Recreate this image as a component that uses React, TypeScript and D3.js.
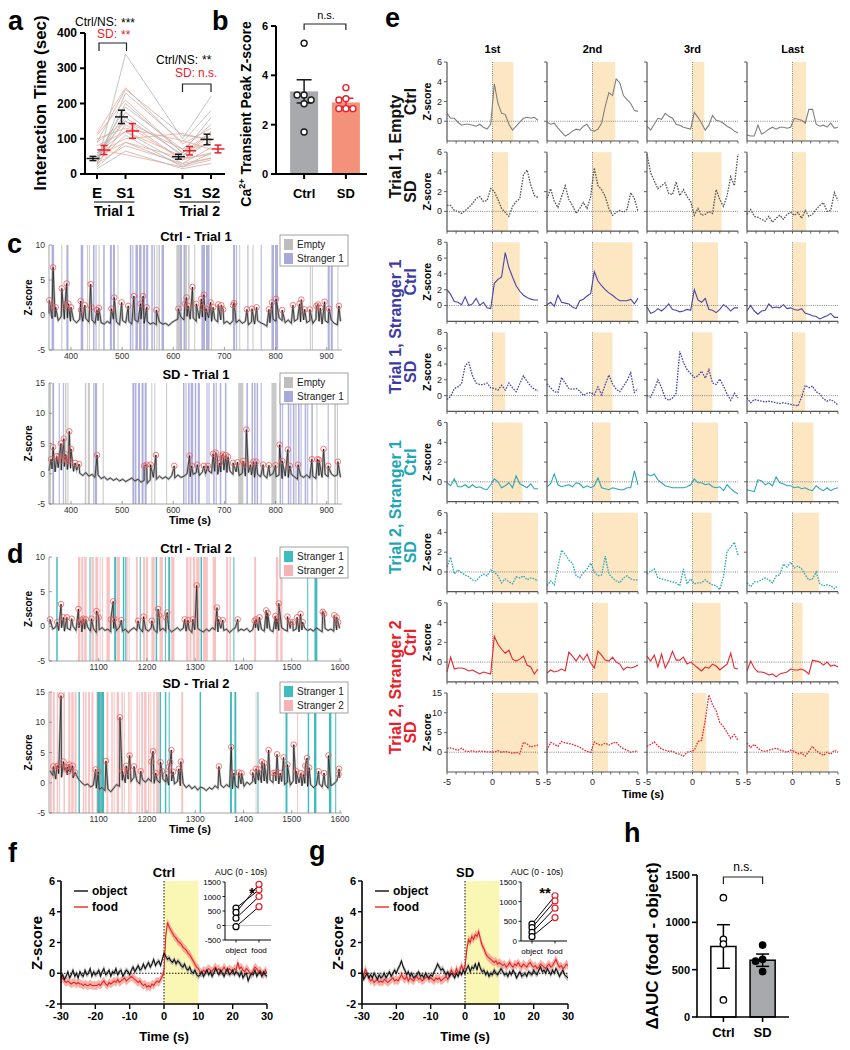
import React from 'react'
import * as d3 from 'd3'

const FONT = "'Liberation Sans', Arial, Helvetica, sans-serif"
const RED = '#e8202a'
const BAR_GRAY = '#a7a9ac'

// ---------- a: interaction time ----------
const aSlots = ['t1E', 't1S1', 'gap', 't2S1', 't2S2']
const aKeys = ['t1E', 't1S1', 't2S1', 't2S2']
const aTickLabels = ['E', 'S1', 'S1', 'S2']
const aCtrlAnimals = [
  [15, 65, 15, 30], [25, 340, 100, 220], [30, 230, 90, 180], [40, 200, 60, 160],
  [45, 175, 50, 120], [55, 150, 40, 95], [60, 120, 30, 75], [35, 110, 20, 60],
  [50, 190, 70, 140], [90, 240, 110, 100], [20, 90, 25, 45], [40, 160, 55, 90],
]
const aSdAnimals = [
  [115, 245, 85, 130], [110, 210, 60, 120], [25, 140, 40, 60], [60, 100, 115, 95],
  [80, 120, 50, 110], [30, 80, 30, 45], [70, 55, 20, 40], [90, 150, 70, 85],
  [50, 90, 45, 55], [100, 130, 95, 70],
]
const aCtrlMean = [44, 162, 49, 98]
const aCtrlSem = [6, 19, 7, 15]
const aSdMean = [68, 122, 66, 71]
const aSdSem = [13, 21, 12, 11]

// ---------- b: peak z-score ----------
const bGroups = ['Ctrl', 'SD']
const bMeans = [3.35, 2.9]
const bSems = [0.47, 0.17]
const bCtrlPoints = [5.3, 3.2, 3.2, 3.0, 2.85, 1.7]
const bSdPoints = [3.5, 3.05, 3.0, 2.65, 2.65, 2.65]

// ---------- c / d: whole-session traces ----------
const traceStep = 6
const cT1Start = 357
const cCtrlT1Base = [
  0.2, -0.5, -0.3, -0.8, -0.2, -0.6, -0.4, -0.9, -0.7, -1.1,
  -0.6, -0.9, -0.5, -1.0, -0.7, -1.2, -0.8, -1.1, -1.3, -0.9,
  -1.2, -0.6, -1.0, -1.4, -0.8, -1.1, -0.9, -1.3, -0.7, -1.0,
  -0.6, -1.2, -0.9, -1.3, -1.1, -1.4, -1.0, -1.3, -1.2, -1.5,
  -1.1, -0.8, -0.6, -0.3, -0.7, -0.2, -0.6, -0.4, -0.9, -0.5,
  -0.3, -0.8, -0.4, -0.9, -0.6, -1.0, -0.7, -1.2, -0.9, -1.3,
  -0.8, -1.1, -0.7, -1.2, -0.9, -1.4, -1.0, -1.3, -0.8, -1.1,
  -1.3, -1.6, -1.1, -0.6, -0.9, -0.4, -0.8, -1.1, -0.7, -1.2,
  -0.9, -0.6, -1.0, -0.7, -1.1, -0.8, -1.2, -0.6, -0.9, -1.3,
  -0.8, -1.1, -0.7, -1.2, -1.4, -0.9,
]
const cCtrlT1Peaks = [
  [357.6, 2.1], [363, 1.3], [365, 6.8], [370, 1.1], [382, 3.8], [388, 1.3], [391.5, 4.5], [395, 1.6],
  [400, 1.1], [419, 2.0], [419.5, 0.7], [427, 1.4], [438.5, 4.4], [440, 1.1], [451, 0.7], [454.6, 1.0],
  [479, 0.9], [484.6, 2.5], [499, 1.8], [512, 1.3], [523, 2.7], [536, 1.6], [541, 2.7], [548, 1.1],
  [567, 0.7], [610, 0.9], [623, 1.6], [626, 2.5], [629, 1.3], [637.6, 4.0], [645, 1.6], [655, 2.3],
  [657, 1.1], [660, 2.9], [664, 0.9], [673, 1.8], [678, 1.1], [688, 1.5], [694, 1.4], [697.5, 0.8],
  [717, 1.4], [719, 1.7], [744, 0.8], [754, 0.9], [763, 1.1], [787, 0.8], [793, 1.8], [801, 2.3],
  [813, 0.7], [834, 1.4], [847, 1.6], [850.5, 2.2], [857, 0.8], [867, 0.8], [880, 1.3], [883, 1.5],
  [887.6, 1.0], [896, 1.9], [904.5, 0.9], [924, 1.3],
]
const cCtrlT1Empty = [
  [381, 383], [431, 433], [435, 437], [454, 456], [491, 493], [567, 569], [571, 574], [606, 613],
  [623, 627], [629, 632], [641, 643], [674, 676], [729, 731], [755, 757], [867, 869], [871, 873], [921, 923],
]
const cCtrlT1Stranger1 = [
  [362, 367], [391, 395], [419, 424], [443, 446], [448, 450], [463, 466], [476, 480], [482, 486],
  [515, 518], [520, 522], [526, 531], [533, 538], [541, 545], [547, 551], [557, 560], [562, 564],
  [577, 582], [613, 617], [620, 623], [655, 662], [664, 671], [717, 721], [723, 725], [745, 747],
  [771, 773], [792, 797], [799, 805], [902, 906], [908, 912],
]
const cSdT1Base = [
  0.5, 0.8, 0.3, 1.0, 0.6, 1.2, 0.7, 0.9, 0.4, 0.6,
  0.1, -0.3, 0.2, -0.4, -0.1, -0.6, -0.2, -0.8, -0.5, -1.0,
  -0.7, -1.1, -0.8, -1.2, -0.9, -1.3, -1.0, -0.7, -1.2, -0.9,
  -1.4, -1.1, -1.6, -1.0, -0.6, -0.9, -0.4, -0.8, -0.5, -0.9,
  -0.3, -0.7, -0.2, -0.6, -0.4, 0.0, -0.5, -0.1, 0.2, -0.3,
  0.3, 0.0, 0.5, 0.1, 0.4, -0.1, 0.3, 0.6, 0.2, 0.4,
  -0.1, 0.3, -0.3, 0.1, -0.4, 0.2, -0.2, -0.6, -0.1, -0.5,
  -0.2, -0.7, -0.3, 0.0, -0.5, -0.2, -0.8, -0.4, -0.6, -0.1,
  -0.5, -0.9, -0.3, -0.6, -0.2, -0.7, -0.4, -0.8, -0.3, -0.6,
  -0.1, -0.5, 0.0, -0.4, -0.2, -0.6,
]
const cSdT1Peaks = [
  [361, 2.4], [365, 4.4], [372, 2.9], [377, 2.9], [380.4, 5.0], [382, 2.1], [386, 5.8], [389.6, 3.2],
  [391.6, 2.5], [394.7, 2.1], [396.7, 7.0], [400, 4.1], [408, 1.8], [416, 1.6], [451, 3.1], [543, 1.3],
  [548, 1.5], [555.6, 1.5], [566, 3.1], [602, 1.3], [632, 3.0], [636, 1.3], [647, 1.5], [660, 1.3],
  [668, 1.3], [678, 3.3], [683, 3.5], [686.5, 2.5], [691, 1.8], [694, 2.9], [697.5, 3.2], [702.7, 3.1],
  [707, 2.8], [717, 1.8], [725.5, 1.9], [736.5, 2.1], [738.5, 1.5], [743, 7.3], [751, 1.5], [757, 2.0],
  [762.6, 2.0], [775.6, 1.5], [787, 1.4], [800, 1.4], [808, 4.8], [813, 2.1], [824, 4.0], [828, 1.3],
  [844, 1.5], [871, 2.4], [882, 2.4], [885, 2.3], [894, 4.1], [903, 1.3], [922, 2.0],
]
const cSdT1Empty = [
  [358, 361], [363, 366], [388, 391], [393, 395], [427, 430], [433, 437], [443, 445], [462, 464],
  [557, 559], [563, 565], [586, 588], [727, 737], [792, 802], [880, 882], [915, 918], [920, 922],
]
const cSdT1Stranger1 = [
  [365, 367], [376, 378], [384, 386], [446, 451], [520, 524], [525, 528], [531, 535], [538, 542],
  [544, 548], [619, 622], [624, 626], [629, 632], [634, 639], [642, 645], [648, 652], [665, 667],
  [669, 671], [678, 681], [683, 685], [691, 694], [701, 704], [743, 746], [753, 756], [758, 761],
  [763, 766], [771, 773], [808, 811], [813, 815], [824, 827], [829, 831], [834, 837], [839, 841],
  [844, 847], [849, 851], [857, 860], [862, 864], [870, 873], [902, 904],
]
const dT2Start = 999
const dCtrlT2Base = [
  0.3, -0.4, -0.1, -0.6, -0.2, -0.7, -0.3, -0.5, 0.0, -0.6,
  -0.2, -0.8, -0.4, -0.1, -0.7, -0.3, -0.9, -0.5, -0.2, -0.6,
  -0.4, -0.8, -0.3, -0.6, -0.1, -0.7, -0.4, -0.9, -0.5, -0.2,
  -0.6, -0.3, -0.8, -0.4, -0.7, -0.2, -0.5, -0.9, -0.6, -0.3,
  -0.7, -0.4, -0.8, -0.5, -0.2, -0.6, -0.3, -0.7, -0.4, -0.9,
  -0.5, -0.3, -0.6, -0.8, -0.4, -0.7, -0.2, -0.5, -0.8, -0.3,
  -0.6, -0.4, -0.9, -0.5, -0.2, -0.7, -0.4, -0.6, -0.3, -0.8,
  -0.5, -0.2, -0.6, -0.4, -0.7, -0.3, -0.5, -0.8, -0.4, -0.6,
  -0.2, -0.5, -0.7, -0.3, -0.6, -0.4, -0.8, -0.5, -0.3, -0.6,
  -0.4, -0.7, -0.2, -0.5, -0.8, -0.3, -0.6, -0.4, -0.7, -0.5,
  -0.3,
]
const dCtrlT2Peaks = [
  [999, 1.0], [1014, 0.6], [1022, 3.2], [1027, 1.3], [1034, 1.3], [1044, 1.1], [1058, 2.5], [1061, 0.5],
  [1064.5, 0.9], [1068, 1.1], [1073, 1.0], [1085, 1.1], [1095.5, 2.2], [1100, 1.3], [1125, 1.0], [1130, 3.6],
  [1132, 1.1], [1147, 0.9], [1181.5, 0.8], [1193, 1.4], [1210, 0.8], [1223, 2.5], [1225, 1.6], [1239, 1.3],
  [1242, 2.0], [1278, 1.0], [1285, 0.9], [1295, 1.0], [1303, 5.9], [1345, 2.7], [1348, 1.0], [1357, 0.9],
  [1388, 1.0], [1423, 0.8], [1426, 1.0], [1433, 1.3], [1447, 2.3], [1450, 1.9], [1466, 1.5], [1469, 1.1],
  [1473, 3.3], [1491, 1.4], [1497, 0.6], [1502, 0.6], [1511, 1.3], [1518, 1.8], [1522.5, 0.6], [1564, 2.1],
  [1567, 1.8], [1588, 1.6], [1593, 1.3], [1596, 0.6],
]
const dCtrlT2Stranger1 = [
  [1012, 1015], [1081, 1083], [1132, 1136], [1150, 1153], [1155, 1157], [1185, 1187], [1218, 1221],
  [1237, 1239], [1244, 1248], [1311, 1314], [1379, 1381], [1532, 1534], [1547, 1553],
]
const dCtrlT2Stranger2 = [
  [1057, 1062], [1064, 1068], [1070, 1075], [1085, 1090], [1093, 1099], [1102, 1104], [1107, 1109],
  [1116, 1123], [1137, 1144], [1157, 1160], [1162, 1164], [1177, 1181], [1192, 1196], [1198, 1202],
  [1209, 1216], [1226, 1233], [1250, 1257], [1281, 1286], [1288, 1292], [1295, 1300], [1302, 1309],
  [1316, 1326], [1336, 1343], [1364, 1368], [1371, 1374], [1422, 1426], [1467, 1472], [1476, 1481],
]
const dSdT2Base = [
  2.0, 1.2, 0.6, 1.5, 0.9, 2.1, 1.3, 1.8, 0.8, 1.4,
  0.5, 0.0, -0.4, -0.2, -0.7, -0.4, -0.9, -1.1, -0.8, -1.3,
  -1.0, -1.5, -0.9, -0.3, -0.6, 0.4, 0.0, 0.6, 0.2, 0.9,
  0.3, -0.2, 0.5, 0.1, 0.7, 0.2, -0.1, 0.4, 0.0, 0.6,
  0.1, -0.4, 0.3, -0.2, 0.2, -0.5, -0.1, -0.8, -0.4, -1.0,
  -0.6, -1.2, -0.7, -0.9, -1.3, -0.8, -1.1, -0.5, -0.9, -0.4,
  -0.8, -0.3, -0.7, -1.0, -0.5, -0.8, -0.2, -0.6, 0.1, -0.3,
  0.2, -0.2, 0.4, 0.0, 0.3, -0.1, 0.5, 0.0, 0.3, -0.2,
  0.2, -0.3, 0.1, -0.4, 0.3, -0.2, 0.0, -0.5, -0.1, -0.6,
  -0.3, -0.8, -0.4, -0.2, -0.7, -0.3, -0.9, -0.5, -0.2, 0.3,
  0.8,
]
const dSdT2Peaks = [
  [1006, 2.7], [1013, 2.7], [1016, 2.8], [1022, 14.4], [1027, 3.5], [1032, 2.5], [1035, 2.6], [1037, 1.9],
  [1039, 3.0], [1046, 2.8], [1051, 1.7], [1093.5, 2.2], [1099, 1.8], [1115, 3.6], [1144, 10.8], [1149, 1.9],
  [1157, 2.8], [1161, 1.8], [1164, 4.5], [1173, 2.7], [1187, 1.9], [1209, 3.5], [1212.5, 5.2], [1218, 1.6],
  [1228, 3.4], [1231, 1.9], [1240, 1.4], [1245.5, 2.6], [1248, 3.4], [1250.5, 5.4], [1254, 1.8], [1266, 2.3],
  [1270, 3.5], [1349, 2.7], [1374.5, 5.9], [1380, 1.6], [1390, 1.7], [1396, 1.6], [1419, 1.7], [1426, 2.3],
  [1431.5, 2.2], [1438, 3.5], [1443, 3.2], [1452, 5.4], [1462, 1.6], [1466, 1.7], [1469.5, 4.7], [1476, 1.6],
  [1483, 4.2], [1491, 3.0], [1504, 6.3], [1509, 1.9], [1519, 1.6], [1524.5, 1.4], [1528, 2.8], [1531.5, 4.1],
  [1536, 2.5], [1555.5, 1.9], [1567, 1.6], [1576, 4.5], [1597, 1.4], [1598, 2.3],
]
const dSdT2Stranger1 = [
  [1058, 1061], [1097, 1104], [1105, 1111], [1226, 1229], [1237, 1240], [1245, 1247], [1309, 1312],
  [1372, 1376], [1381, 1385], [1429, 1431], [1487, 1491], [1533, 1536], [1546, 1551], [1577, 1582], [1590, 1592],
]
const dSdT2Stranger2 = [
  [999, 1003], [1005, 1009], [1013, 1016], [1018, 1020], [1027, 1030], [1037, 1041], [1043, 1048],
  [1050, 1054], [1067, 1070], [1072, 1075], [1078, 1082], [1085, 1089], [1095, 1099], [1102, 1105],
  [1107, 1109], [1116, 1120], [1126, 1129], [1131, 1133], [1137, 1142], [1147, 1150], [1152, 1154],
  [1161, 1164], [1166, 1168], [1178, 1181], [1183, 1185], [1188, 1192], [1194, 1199], [1202, 1205],
  [1207, 1209], [1213, 1216], [1219, 1225], [1271, 1275], [1425, 1427], [1511, 1513],
]

// ---------- e: single bouts ----------
const eCols = ['1st', '2nd', '3rd', 'Last']
const eTimes = [-5, -4.6, -4.2, -3.8, -3.4, -3, -2.6, -2.2, -1.8, -1.4, -1, -0.6, -0.2,
  0.2, 0.6, 1, 1.4, 1.8, 2.2, 2.6, 3, 3.4, 3.8, 4.2, 4.6, 5]
const eT1EmptyCtrl = [
  [0.8, 0.3, 0.3, -0.1, -0.4, -0.3, -0.3, -0.4, -0.5, -0.3, -0.6, -0.8, -0.3, 3.8, 1.8, 0.8, 0.7, -0.3, -0.9, -0.5, -0.1, 0.3, 0.4, 0.3, 0.4, 0.1],
  [-0.1, -0.3, -0.2, -0.7, -1.1, -1.5, -1.3, -1.0, -0.8, -0.9, -0.5, -0.3, -0.9, -1.0, -0.8, -0.2, 1.5, 2.9, 2.6, 4.3, 3.9, 2.6, 2.2, 1.8, 1.1, 1.0],
  [-0.5, -0.9, -0.3, 0.3, 0.2, 0.8, 0.5, 0.3, -0.3, -0.4, -0.6, -0.7, -0.8, 0.9, 0.4, -0.2, -0.9, -0.4, 0.6, 0.1, 0.0, -0.2, -0.5, -0.7, -1.0, -1.2],
  [-1.4, -1.5, -1.5, -0.4, -1.3, -1.1, -0.8, -0.6, -0.8, -0.6, -0.6, -0.7, -0.6, 0.3, 0.2, 0.1, -0.2, 1.2, 1.2, -0.3, -0.5, -0.4, -0.6, -0.2, -0.7, -0.6],
]
const eT1EmptySd = [
  [0.6, 0.6, 0.1, 0.0, -0.2, 0.1, 0.4, 0.8, 1.3, 1.5, 1.0, 1.1, 2.3, 2.0, 1.2, 0.3, -0.1, -0.5, 0.5, 1.0, 1.3, 3.7, 4.2, 2.7, 1.6, 1.4],
  [1.3, 2.3, 1.0, 0.4, 1.5, 2.6, 1.2, 0.6, -0.2, 0.3, 0.9, 0.3, 1.5, 4.4, 2.6, 2.2, 1.5, 0.3, -0.4, -0.1, 0.1, -0.1, 0.2, 1.9, 1.3, 0.0],
  [5.8, 3.9, 3.1, 2.3, 2.6, 2.9, 1.8, 1.7, 3.0, 1.6, 2.2, 1.5, 1.0, -0.4, 0.3, -0.4, -0.3, 0.0, -0.2, 2.2, 1.2, 0.5, 1.6, 3.5, 2.6, 5.8],
  [-0.3, 0.2, -0.5, -0.6, -0.8, -1.0, -0.5, -1.1, -0.7, -0.4, -0.8, -0.3, -0.1, -0.4, -0.1, -0.7, 0.1, -0.5, -0.3, 0.2, 0.6, 0.9, 0.0, 0.1, 1.9, 1.1],
]
const eT1S1Ctrl = [
  [2.0, 1.4, 0.5, 0.4, 0.1, 1.1, 0.0, 0.2, 0.9, 0.0, 0.4, -0.3, -0.4, 2.8, 3.3, 3.6, 6.7, 4.8, 3.6, 2.5, 1.8, 1.3, 1.0, 0.8, 0.7, 0.7],
  [0.1, 0.4, -0.1, 1.3, 0.4, 0.3, 0.2, -0.2, -0.4, 0.6, 0.8, 1.2, 1.5, 4.3, 3.1, 2.5, 2.0, 1.6, 1.3, 0.9, 0.6, 0.6, 0.6, 0.8, 0.2, 0.9],
  [-0.2, -1.0, -0.8, -0.4, -0.7, -0.3, 0.2, -0.5, -0.6, -0.8, -0.7, -0.5, -0.6, 2.0, 0.7, 0.4, 0.9, -0.5, -0.6, -0.9, -0.5, 0.1, -0.2, -0.7, -0.3, -0.3],
  [-0.7, 0.0, -0.7, -1.1, -0.7, -0.6, 0.2, -0.3, -0.2, -0.3, 0.1, -0.4, -0.3, -0.5, -0.6, -0.4, -1.0, -1.1, -1.3, -1.4, -1.7, -1.5, -1.3, -1.0, -1.5, -1.5],
]
const eT1S1Sd = [
  [-0.5, -0.1, 0.9, 1.1, 1.5, 3.8, 4.2, 2.5, 1.6, 1.4, 1.4, 1.6, 1.0, 0.9, 0.7, 1.3, 0.7, 1.6, 1.0, 0.5, 1.5, 2.5, 1.8, 1.2, 0.8, 0.6],
  [1.5, 1.0, 0.5, 0.4, 2.3, 1.6, 0.9, 0.8, 0.9, 0.6, 0.0, 0.3, 0.4, 0.1, 1.1, 0.1, 1.4, 2.6, 1.5, 0.8, 0.5, 1.2, 1.9, 2.9, 0.4, 0.9],
  [0.0, -0.2, 0.8, 2.0, 1.0, -0.3, -0.6, -0.3, 0.3, 5.6, 4.2, 3.3, 2.8, 2.3, 2.5, 3.1, 2.2, 3.3, 1.6, 1.4, 2.1, 1.2, 0.2, -0.6, 0.3, -0.3],
  [-0.3, -0.9, -0.5, -0.6, -0.7, -0.8, -0.7, -0.8, -0.9, -1.0, -0.9, -1.0, -1.1, -1.2, -1.3, -0.2, 1.3, 1.0, 1.2, 0.5, 0.2, -0.4, -0.7, -0.5, -0.8, -1.2],
]
const eT2S1Ctrl = [
  [-0.1, -0.4, 0.3, -0.5, -0.5, -0.3, -0.6, -0.3, -0.6, -0.5, -0.7, -0.8, -0.3, 0.3, 0.0, -0.6, -0.4, -0.1, -0.6, 0.6, -0.2, -0.4, -0.6, -0.2, -0.7, -0.7],
  [-0.5, -0.2, 0.8, -0.3, -0.5, -0.4, -0.3, -0.5, -0.1, -0.2, -0.6, -0.4, -0.6, -0.4, 0.4, -0.6, -0.7, -0.8, -0.6, -0.7, -0.8, -0.8, -0.6, -0.6, 1.1, -0.3],
  [0.8, 0.6, 0.8, 0.2, -0.1, -0.4, -0.5, -0.6, -0.6, -0.6, -0.6, -0.5, -0.3, 0.3, -0.1, -0.1, -0.3, -0.2, -0.5, -0.6, -0.5, -0.9, -0.3, -0.7, -1.0, -1.2],
  [-0.8, -0.9, -1.0, 0.2, 0.1, -0.3, -0.1, -0.4, 0.5, -0.1, -0.2, -0.4, -0.4, -0.6, -0.5, -0.7, -0.6, -0.8, -0.9, -0.4, -0.7, -0.9, -0.6, -0.9, -0.7, -0.6],
]
const eT2S1Sd = [
  [0.5, 1.5, -0.2, 0.2, -0.1, -0.3, -0.5, -0.8, -0.9, -0.5, -0.2, -0.4, 0.2, 0.0, -0.4, -1.1, -0.7, -1.0, -1.2, -0.5, -0.6, -0.4, -0.8, -0.6, -0.7, -0.9],
  [-1.4, -0.9, -1.3, 0.5, 2.2, 1.8, 1.2, 0.9, -0.4, -0.6, -0.1, 0.3, 0.9, 0.0, -0.4, -0.3, 1.6, -0.2, -0.6, -0.9, -1.1, -0.6, -0.4, -0.7, -0.8, -0.8],
  [-0.2, 0.1, 0.3, -0.6, -0.7, -0.8, -0.9, -1.0, -1.1, -1.4, 0.3, -1.2, -0.7, -1.2, -1.1, -1.1, -0.8, -1.1, -1.3, -1.4, -1.8, -0.5, 2.1, 2.5, 3.0, 1.7],
  [-1.1, -1.5, -1.0, -1.0, -0.8, -0.6, -0.8, -1.1, -0.4, -0.3, 0.8, 0.5, 1.0, 0.4, 0.6, 0.3, -0.3, -0.8, -0.7, 0.0, -1.2, -1.4, -1.3, -1.4, -1.7, -1.4],
]
const eT2S2Ctrl = [
  [-1.0, 0.5, -0.7, -0.6, -0.6, -0.7, -0.9, -0.8, -1.0, -1.2, -1.0, -1.1, -1.2, 2.6, 1.8, 1.3, 0.9, 1.2, 0.3, 0.1, 0.3, 0.6, -0.3, -0.5, -1.2, -0.7],
  [-1.1, -0.8, -1.0, -0.9, -0.7, -0.9, 1.0, 0.6, 0.1, 0.7, 0.2, 0.8, -0.1, -0.6, 1.1, 0.7, 0.2, 0.1, 0.5, 0.0, -0.2, -0.8, -0.5, -0.6, -0.5, -0.3],
  [0.6, 0.1, 0.7, -0.5, 0.8, -0.6, 0.1, 1.1, 0.2, 0.2, 0.5, -0.2, 0.0, -0.3, -0.6, -0.9, -0.5, -0.6, -0.2, -0.4, -0.8, -0.5, -0.2, 0.9, -0.6, -0.7],
  [-0.9, 0.1, -0.6, -1.0, -1.0, -1.1, -1.3, -1.2, -1.5, -1.2, -1.1, -1.0, -0.7, -0.8, -0.8, -0.7, -0.9, -1.2, 0.2, 0.1, 0.0, -0.3, 0.0, -0.4, -0.3, -0.5],
]
const eT2S2Sd = [
  [1.0, 1.1, 0.8, 0.5, 1.0, 0.3, 0.2, 0.4, 0.1, 0.3, 0.2, 0.1, 0.1, 0.0, 0.4, 0.0, 0.2, 0.0, -0.3, 0.0, -0.4, 2.5, 2.1, 1.3, 1.6, 1.8],
  [0.5, 2.5, 2.0, 1.5, 2.7, 2.4, 2.2, 2.0, 1.6, 1.3, 0.7, 0.2, 0.0, 2.6, 2.0, 1.8, 2.3, 1.8, 2.3, 2.6, 1.5, 0.9, 0.5, 0.0, 0.2, 0.3],
  [1.5, 2.0, 2.6, 1.6, 0.8, 0.5, 0.2, 0.3, -0.3, -0.5, -1.0, 0.0, 0.2, 0.5, 2.7, 3.0, 8.0, 14.5, 12.0, 10.5, 7.5, 6.5, 5.0, 3.5, 4.5, 3.0],
  [2.3, 1.2, 2.0, 1.0, 0.4, 0.2, 0.5, 0.8, 1.0, 0.6, 0.3, 0.0, 0.5, 0.2, -0.4, -0.2, -1.0, 0.2, 1.5, 0.4, -0.3, -0.8, 0.0, -0.5, 0.5, 0.0],
]
// bout durations (s) in each subplot
const eT1EmptyCtrlBout = [2.3, 2.5, 1.3, 1.5]
const eT1EmptySdBout = [1.7, 2.1, 3.2, 1.5]
const eT1S1CtrlBout = [3.0, 4.4, 2.8, 1.5]
const eT1S1SdBout = [1.4, 2.2, 2.2, 1.4]
const eT2S1CtrlBout = [3.3, 2.0, 2.8, 2.3]
const eT2S1SdBout = [5.0, 5.0, 2.1, 2.9]
const eT2S2CtrlBout = [5.0, 1.7, 3.1, 1.1]
const eT2S2SdBout = [5.0, 1.7, 1.5, 4.0]

// ---------- f / g: object vs food ----------
const fgStart = -30
const fgStep = 0.5
const fCtrlObject = [
  -0.3, -0.1, -0.4, -0.2, 0.1, -0.3, -0.1, 0.2, -0.2, 0.0, -0.3, 0.1, -0.1, -0.2, 0.2, -0.1, 0.0, 0.3, -0.2, 0.1, -0.1,
  0.0, 0.2, -0.2, 0.1, 0.3, -0.1, 0.0, 0.2, -0.2, 0.1, 0.0, 0.3, -0.1, 0.1, 0.2, -0.2, 0.0, 0.2, 0.1, -0.1,
  0.2, 0.4, 0.1, 0.3, 0.5, 0.2, 0.3, 0.6, 0.3, 0.5, 0.7, 0.4, 0.6, 0.9, 0.5, 0.7, 0.8, 0.5, 0.9, 1.3,
  1.1, 0.9, 1.0, 0.8, 0.7, 0.9, 0.6, 0.8, 0.7, 0.5, 0.4, 0.6, 0.3, 0.2, 0.4, 0.1, 0.0, 0.2, -0.1, -0.2,
  -0.1, 0.1, -0.2, 0.0, 0.2, -0.1, 0.1, -0.2, 0.0, 0.3, 0.1, -0.1, 0.2, 0.0, -0.2, 0.1, 0.3, -0.1, 0.0, 0.2,
  -0.1, 0.1, 0.0, -0.2, 0.1, -0.3, -0.1, 0.0, -0.5, -0.2, 0.0, -0.1, 0.2, -0.2, 0.0, 0.1, -0.2, 0.1, -0.1, -0.2,
]
const fCtrlFood = [
  -0.4, -0.3, -0.5, -0.6, -0.5, -0.6, -0.7, -0.6, -0.6, -0.7, -0.6, -0.7, -0.7, -0.8, -0.7, -0.8, -0.8, -0.7, -0.8, -0.8, -0.8,
  -0.8, -0.7, -0.8, -0.6, -0.5, -0.7, -0.8, -0.6, -0.7, -0.6, -0.5, -0.6, -0.4, -0.6, -0.5, -0.4, -0.3, -0.5, -0.4, -0.3,
  -0.2, -0.3, -0.4, -0.5, -0.6, -0.5, -0.7, -0.8, -0.7, -0.9, -0.8, -0.9, -0.7, -0.8, -0.6, -0.5, -0.6, -0.4, -0.2, 0.2,
  2.4, 3.3, 3.0, 2.8, 2.6, 2.4, 2.3, 2.1, 2.0, 1.9, 1.7, 1.6, 1.5, 1.3, 1.2, 1.0, 0.8, 0.6, 0.4, 0.3,
  0.1, 0.0, 0.2, 0.1, 0.2, 0.3, 0.2, 0.1, 0.3, 0.4, 0.2, 0.3, 0.1, 0.2, 0.4, 0.2, 0.1, 0.3, 0.2, 0.1,
  0.3, 0.2, 0.7, 0.3, 0.4, 0.2, 0.1, 0.3, 0.2, 0.0, -0.1, 0.2, 0.4, 0.3, 0.1, 0.2, 0.0, -0.1, 0.2, 0.0,
]
const gSdObject = [
  0.2, -0.4, -0.2, 0.0, -0.3, -0.1, -0.3, 0.0, -0.2, -0.4, -0.1, -0.3, -0.2, 0.0, -0.3, -0.1, 0.1, -0.2, 0.0, 0.2, 0.0,
  0.3, 0.5, 0.8, 0.4, 0.2, -0.1, 0.1, -0.2, 0.0, -0.3, -0.2, -0.1, 0.1, -0.2, -0.1, -0.3, 0.0, -0.2, -0.3, -0.1,
  -0.2, 0.1, 0.3, 0.6, 0.4, 0.2, 0.3, 0.1, -0.1, 0.1, -0.2, 0.0, -0.1, -0.3, 0.0, -0.2, 0.1, -0.1, 0.2, 0.0,
  0.3, 0.5, 0.1, 0.4, 0.3, 0.6, 0.2, 0.7, 0.3, 0.1, 0.2, -0.1, 0.1, -0.2, 0.0, -0.1, 0.2, 0.0, -0.1, 0.1,
  0.3, 0.1, -0.1, 0.0, -0.2, 0.1, -0.1, 0.2, 0.0, -0.3, -0.1, 0.1, -0.2, -0.1, 0.0, -0.2, 0.1, 0.0, -0.1, 0.2,
  0.0, -0.1, 0.2, 0.4, 0.1, 0.2, 0.0, 0.3, 0.1, -0.1, 0.2, 0.0, 0.3, 0.1, -0.2, 0.0, 0.2, -0.1, -0.2, -0.3,
]
const gSdFood = [
  0.0, -0.2, 0.3, -0.1, -0.3, -0.5, -0.4, -0.6, -0.5, -0.4, -0.6, -0.5, -0.6, -0.4, -0.5, -0.6, -0.5, -0.4, -0.3, -0.5, -0.4,
  -0.5, -0.3, -0.1, -0.3, -0.4, -0.2, -0.5, -0.3, -0.4, -0.5, -0.3, -0.2, -0.4, -0.3, -0.5, -0.4, -0.3, -0.2, -0.4, -0.3,
  -0.4, -0.5, -0.3, -0.4, -0.3, -0.5, -0.4, -0.3, -0.2, -0.4, -0.1, 0.2, 0.0, -0.1, 0.3, 0.0, 0.2, 0.5, 0.2, 0.4,
  1.5, 2.2, 2.0, 2.4, 2.2, 2.5, 2.4, 2.7, 2.2, 1.8, 1.6, 1.3, 1.1, 1.0, 0.9, 0.8, 0.7, 0.8, 0.6, 0.7,
  0.6, 0.5, 0.6, 0.4, 0.5, 0.7, 0.5, 0.4, 0.6, 0.5, 0.7, 0.5, 0.4, 0.6, 0.5, 0.4, 0.6, 0.7, 0.5, 0.4,
  0.5, 0.3, 0.4, 0.6, 0.5, 0.4, 0.3, 0.5, 0.6, 0.4, 0.5, 0.7, 0.9, 0.6, 0.4, 0.5, 0.3, 0.4, 0.6, 0.5,
]
const fAucObject = [600, 450, 250, -40]
const fAucFood = [1230, 1420, 1000, 650]
const gAucObject = [430, 340, 220, 110]
const gAucFood = [1150, 1020, 835, 596]

// ---------- h: delta AUC ----------
const hGroups = ['Ctrl', 'SD']
const hMeans = [745, 600]
const hSems = [230, 65]
const hCtrlPoints = [1260, 820, 770, 180]
const hSdPoints = [760, 610, 590, 480]

// ---------- helpers ----------
const dodge = (vals: number[], y: (v: number) => number, minDist: number, step: number) => {
  const placed: { dx: number; py: number }[] = []
  return vals.map((v) => {
    const py = y(v)
    for (const dx of [0, -step, step, -2 * step, 2 * step]) {
      if (placed.every((p) => Math.hypot(p.dx - dx, p.py - py) >= minDist)) {
        placed.push({ dx, py })
        return { v, dx }
      }
    }
    placed.push({ dx: 0, py })
    return { v, dx: 0 }
  })
}

const Label = ({ x, y, t }: any) => (
  <text x={x} y={y} fontSize={27} fontWeight="bold">{t}</text>
)

const VText = ({ x, y, size, fill = '#000', weight = 'bold', children }: any) => (
  <text transform={`translate(${x},${y}) rotate(-90)`} textAnchor="middle" fontSize={size} fontWeight={weight} fill={fill}>
    {children}
  </text>
)

const MeanSem = ({ cx, y, mean, sem, color, half = 6.5, cap = 3.5 }: any) => (
  <g stroke={color} strokeWidth={1.5}>
    <line x1={cx - half} x2={cx + half} y1={y(mean)} y2={y(mean)} />
    <line x1={cx} x2={cx} y1={y(mean - sem)} y2={y(mean + sem)} />
    <line x1={cx - cap} x2={cx + cap} y1={y(mean - sem)} y2={y(mean - sem)} />
    <line x1={cx - cap} x2={cx + cap} y1={y(mean + sem)} y2={y(mean + sem)} />
  </g>
)

const Bracket = ({ x1, x2, y, drop }: any) => (
  <path d={`M${x1},${y + drop}V${y}H${x2}V${y + drop}`} fill="none" stroke="#222" strokeWidth={1.2} />
)

// ---------- panel a ----------
const PanelA = () => {
  const x = d3.scalePoint<string>().domain(aSlots).range([97, 211])
  const y = d3.scaleLinear().domain([0, 400]).range([174, 33])
  const px = (i: number) => x(aKeys[i]) as number
  const line = d3.line<number>().x((_, i) => px(i)).y((d) => y(d))
  const trials = [{ name: 'Trial 1', a: 0, b: 1 }, { name: 'Trial 2', a: 2, b: 3 }]
  return (
    <g>
      <Label x={8} y={30} t="a" />
      {aSdAnimals.map((d, i) => (
        <path key={'s' + i} d={line(d) as string} fill="none" stroke="#f6a690" strokeWidth={0.8} />
      ))}
      {aCtrlAnimals.map((d, i) => (
        <path key={'c' + i} d={line(d) as string} fill="none" stroke="#b5b5b5" strokeWidth={0.8} />
      ))}
      {aCtrlMean.map((m, i) => (
        <MeanSem key={'cm' + i} cx={px(i) - 4} y={y} mean={m} sem={aCtrlSem[i]} color="#1a1a1a" />
      ))}
      {aSdMean.map((m, i) => (
        <MeanSem key={'sm' + i} cx={px(i) + 7} y={y} mean={m} sem={aSdSem[i]} color={RED} />
      ))}
      <line x1={85} x2={85} y1={y(0) + 1} y2={y(400)} stroke="#000" strokeWidth={2} />
      <line x1={84} x2={225} y1={y(0)} y2={y(0)} stroke="#000" strokeWidth={2} />
      {y.ticks(4).map((t) => (
        <g key={t}>
          <line x1={80} x2={85} y1={y(t)} y2={y(t)} stroke="#000" strokeWidth={2} />
          <text x={77} y={y(t) + 4} textAnchor="end" fontSize={12} fontWeight="bold">{t}</text>
        </g>
      ))}
      {aKeys.map((k, i) => (
        <g key={k}>
          <line x1={px(i)} x2={px(i)} y1={y(0)} y2={y(0) + 5} stroke="#000" strokeWidth={2} />
          <text x={px(i)} y={198} textAnchor="middle" fontSize={15} fontWeight="bold">{aTickLabels[i]}</text>
        </g>
      ))}
      {trials.map((t) => (
        <g key={t.name}>
          <line x1={px(t.a) - 3} x2={px(t.b) + 9} y1={202} y2={202} stroke="#000" strokeWidth={1.2} />
          <text x={(px(t.a) + px(t.b)) / 2 + 3} y={216} textAnchor="middle" fontSize={14} fontWeight="bold">{t.name}</text>
        </g>
      ))}
      <VText x={46} y={103} size={17}>Interaction Time (sec)</VText>
      <g fontSize={12}>
        <text x={117} y={26} textAnchor="end">Ctrl/NS:</text>
        <text x={121} y={27}>***</text>
        <text x={117} y={38} textAnchor="end" fill={RED}>SD:</text>
        <text x={121} y={39} fill={RED}>**</text>
        <text x={198} y={64} textAnchor="end">Ctrl/NS:</text>
        <text x={202} y={64}>**</text>
        <text x={195} y={77} textAnchor="end" fill={RED}>SD:</text>
        <text x={198} y={77} fill={RED}>n.s.</text>
      </g>
      <Bracket x1={px(0) + 2} x2={px(1) + 1} y={43} drop={8} />
      <Bracket x1={px(2)} x2={px(3)} y={84} drop={8} />
    </g>
  )
}

// ---------- panel b ----------
const PanelB = () => {
  const x = d3.scaleBand<string>().domain(bGroups).range([283, 367]).paddingInner(0.33).paddingOuter(0.17)
  const y = d3.scaleLinear().domain([0, 6]).range([174, 26])
  const colors = [BAR_GRAY, '#f4917a']
  const strokes = ['#1a1a1a', RED]
  const pts = [bCtrlPoints, bSdPoints]
  return (
    <g>
      <Label x={212} y={30} t="b" />
      {bGroups.map((g, i) => {
        const cx = (x(g) as number) + x.bandwidth() / 2
        return (
          <g key={g}>
            <rect x={x(g)} y={y(bMeans[i])} width={x.bandwidth()} height={y(0) - y(bMeans[i])} fill={colors[i]} />
            <MeanSem cx={cx} y={y} mean={bMeans[i]} sem={bSems[i]} color={strokes[i]} half={0} cap={7.5} />
            {dodge(pts[i], y, 6.5, 7).map((p, j) => (
              <circle key={j} cx={cx + p.dx} cy={y(p.v)} r={3} fill="#fff" stroke={strokes[i]} strokeWidth={1.4} />
            ))}
            <line x1={cx} x2={cx} y1={y(0)} y2={y(0) + 5} stroke="#000" strokeWidth={2} />
            <text x={cx} y={198} textAnchor="middle" fontSize={13} fontWeight="bold">{g}</text>
          </g>
        )
      })}
      <line x1={276} x2={276} y1={y(0) + 1} y2={y(6)} stroke="#000" strokeWidth={2} />
      <line x1={275} x2={367} y1={y(0)} y2={y(0)} stroke="#000" strokeWidth={2} />
      {y.ticks(3).map((t) => (
        <g key={t}>
          <line x1={271} x2={276} y1={y(t)} y2={y(t)} stroke="#000" strokeWidth={2} />
          <text x={268} y={y(t) + 4} textAnchor="end" fontSize={11} fontWeight="bold">{t}</text>
        </g>
      ))}
      <text transform="translate(251,114) rotate(-90)" textAnchor="middle" fontSize={14} fontWeight="bold">
        Ca<tspan fontSize={9} dy={-6}>2+</tspan><tspan dy={6}> Transient Peak Z-score</tspan>
      </text>
      <text x={326} y={19} textAnchor="middle" fontSize={11}>n.s.</text>
      <Bracket x1={(x('Ctrl') as number) + x.bandwidth() / 2} x2={(x('SD') as number) + x.bandwidth() / 2} y={24} drop={6} />
    </g>
  )
}

// ---------- panels c / d ----------
const TracePanel = ({ title, xDomain, xTicks, yDomain, yTicks, top, bottom, legend, bands, base, baseStart, peaks, timeLabel }: any) => {
  const x = d3.scaleLinear().domain(xDomain).range([49, 342])
  const y = d3.scaleLinear().domain(yDomain).range([bottom, top])
  const pts = base
    .map((v: number, i: number) => [baseStart + i * traceStep, v])
    .concat(peaks)
    .sort((a: number[], b: number[]) => a[0] - b[0])
  const line = d3.line<number[]>().x((d) => x(d[0])).y((d) => y(d[1]))
  const path = line(pts) as string
  return (
    <g>
      {bands.map((b: any, bi: number) =>
        b.spans.map((s: number[], i: number) => (
          <rect key={bi + '-' + i} x={x(s[0])} y={top} width={Math.max(0.8, x(s[1]) - x(s[0]))} height={bottom - top}
            fill={b.color} opacity={b.opacity} />
        ))
      )}
      <path d={path} fill="none" stroke="#9a9a9a" strokeWidth={2.2} opacity={0.7} />
      <path d={path} fill="none" stroke="#111" strokeWidth={0.7} />
      {peaks.map((p: number[], i: number) => (
        <circle key={i} cx={x(p[0])} cy={y(p[1])} r={2.8} fill="none" stroke="#f05a5a" strokeWidth={0.8} />
      ))}
      <line x1={49} x2={49} y1={top} y2={bottom} stroke="#8a8a8a" strokeWidth={0.8} />
      <line x1={49} x2={342} y1={bottom} y2={bottom} stroke="#8a8a8a" strokeWidth={0.8} />
      {yTicks.map((t: number) => (
        <g key={t}>
          <line x1={49} x2={52} y1={y(t)} y2={y(t)} stroke="#777" strokeWidth={0.7} />
          <text x={45} y={y(t) + 3} textAnchor="end" fontSize={8.5} fill="#333">{t}</text>
        </g>
      ))}
      {xTicks.map((t: number) => (
        <g key={t}>
          <line x1={x(t)} x2={x(t)} y1={bottom} y2={bottom - 3} stroke="#777" strokeWidth={0.7} />
          <text x={x(t)} y={bottom + 9} textAnchor="middle" fontSize={8.5} fill="#333">{t}</text>
        </g>
      ))}
      <VText x={32} y={(top + bottom) / 2} size={10}>Z-score</VText>
      <text x={196} y={top - 4} textAnchor="middle" fontSize={13} fontWeight="bold">{title}</text>
      <rect x={280} y={top - 10} width={68} height={31} fill="#fff" stroke="#8a8a8a" strokeWidth={0.8} />
      {legend.map((l: any, i: number) => (
        <g key={l.label}>
          <rect x={284} y={top - 10 + 4 + i * 14} width={9} height={11} fill={l.color} />
          <text x={297} y={top - 10 + 13 + i * 14} fontSize={10} fill="#222">{l.label}</text>
        </g>
      ))}
      {timeLabel && (
        <text x={190} y={bottom + 20} textAnchor="middle" fontSize={11} fontWeight="bold">Time (s)</text>
      )}
    </g>
  )
}

const EMPTY = { color: '#9c9c9c', opacity: 0.55, legend: '#bdbdbd' }
const S1P = { color: '#7b7bc6', opacity: 0.6, legend: '#a8a8da' }
const S1T = { color: '#1fb0b4', opacity: 0.85, legend: '#3dbdbf' }
const S2 = { color: '#f49a9a', opacity: 0.6, legend: '#f7b3b3' }

const PanelCD = () => {
  const cX = { xDomain: [357, 930], xTicks: [400, 500, 600, 700, 800, 900] }
  const dX = { xDomain: [997, 1604], xTicks: [1100, 1200, 1300, 1400, 1500, 1600] }
  const cLegend = [{ label: 'Empty', color: EMPTY.legend }, { label: 'Stranger 1', color: S1P.legend }]
  const dLegend = [{ label: 'Stranger 1', color: S1T.legend }, { label: 'Stranger 2', color: S2.legend }]
  return (
    <g>
      <Label x={7} y={253} t="c" />
      <TracePanel {...cX} title="Ctrl - Trial 1" yDomain={[-5, 10]} yTicks={[-5, 0, 5, 10]} top={245} bottom={350}
        legend={cLegend} base={cCtrlT1Base} baseStart={cT1Start} peaks={cCtrlT1Peaks}
        bands={[{ spans: cCtrlT1Empty, ...EMPTY }, { spans: cCtrlT1Stranger1, ...S1P }]} />
      <TracePanel {...cX} title="SD - Trial 1" yDomain={[-5, 15]} yTicks={[-5, 0, 5, 10, 15]} top={383} bottom={504}
        legend={cLegend} base={cSdT1Base} baseStart={cT1Start} peaks={cSdT1Peaks} timeLabel
        bands={[{ spans: cSdT1Empty, ...EMPTY }, { spans: cSdT1Stranger1, ...S1P }]} />
      <Label x={7} y={563} t="d" />
      <TracePanel {...dX} title="Ctrl - Trial 2" yDomain={[-5, 10]} yTicks={[-5, 0, 5, 10]} top={557} bottom={661}
        legend={dLegend} base={dCtrlT2Base} baseStart={dT2Start} peaks={dCtrlT2Peaks}
        bands={[{ spans: dCtrlT2Stranger2, ...S2 }, { spans: dCtrlT2Stranger1, ...S1T }]} />
      <TracePanel {...dX} title="SD - Trial 2" yDomain={[-5, 15]} yTicks={[-5, 0, 5, 10, 15]} top={692} bottom={813}
        legend={dLegend} base={dSdT2Base} baseStart={dT2Start} peaks={dSdT2Peaks} timeLabel
        bands={[{ spans: dSdT2Stranger2, ...S2 }, { spans: dSdT2Stranger1, ...S1T }]} />
    </g>
  )
}

// ---------- panel e ----------
const eRows = [
  { traces: eT1EmptyCtrl, bouts: eT1EmptyCtrlBout, domain: [-2, 6], ticks: [0, 2, 4, 6], color: '#7f7f7f', dashed: false },
  { traces: eT1EmptySd, bouts: eT1EmptySdBout, domain: [-2, 6], ticks: [0, 2, 4, 6], color: '#555', dashed: true },
  { traces: eT1S1Ctrl, bouts: eT1S1CtrlBout, domain: [-2, 8], ticks: [0, 2, 4, 6, 8], color: '#4646a8', dashed: false },
  { traces: eT1S1Sd, bouts: eT1S1SdBout, domain: [-2, 8], ticks: [0, 2, 4, 6, 8], color: '#4646a8', dashed: true },
  { traces: eT2S1Ctrl, bouts: eT2S1CtrlBout, domain: [-2, 6], ticks: [0, 2, 4, 6], color: '#2aa7b8', dashed: false },
  { traces: eT2S1Sd, bouts: eT2S1SdBout, domain: [-2, 6], ticks: [0, 2, 4, 6], color: '#2aa7b8', dashed: true },
  { traces: eT2S2Ctrl, bouts: eT2S2CtrlBout, domain: [-2, 6], ticks: [0, 2, 4, 6], color: '#e8262c', dashed: false },
  { traces: eT2S2Sd, bouts: eT2S2SdBout, domain: [-5, 15], ticks: [0, 5, 10, 15], color: '#e8262c', dashed: true },
]
const eGroups = [
  { name: 'Trial 1, Empty', color: '#111' },
  { name: 'Trial 1, Stranger 1', color: '#3b3ba3' },
  { name: 'Trial 2, Stranger 1', color: '#1ea6b6' },
  { name: 'Trial 2, Stranger 2', color: '#e8202a' },
]
const eSub = ['Ctrl', 'SD']

const PanelE = () => {
  const colX0 = 447, colStep = 100, colW = 91
  const rowY0 = 62, rowStep = 90.14, rowH = 79
  const x = d3.scaleLinear().domain([-5, 5]).range([0, colW])
  const line = d3.line<number>().x((_, i) => x(eTimes[i])).y((d) => d)
  return (
    <g>
      <Label x={385} y={27} t="e" />
      {eCols.map((c, ci) => (
        <text key={c} x={colX0 + ci * colStep + x(0)} y={53} textAnchor="middle" fontSize={11} fontWeight="bold">{c}</text>
      ))}
      {eGroups.map((g, gi) => {
        const t0 = rowY0 + 2 * gi * rowStep
        const mid = (t0 + t0 + rowStep + rowH) / 2
        return (
          <g key={g.name}>
            <VText x={401} y={mid} size={16} fill={g.color}>{g.name}</VText>
            {eSub.map((s, si) => (
              <VText key={s} x={416} y={t0 + si * rowStep + rowH / 2} size={16} fill={g.color}>{s}</VText>
            ))}
          </g>
        )
      })}
      {eRows.map((row, ri) => {
        const top = rowY0 + ri * rowStep
        const bottom = top + rowH
        const y = d3.scaleLinear().domain(row.domain).range([bottom, top])
        return (
          <g key={ri}>
            <VText x={431} y={(top + bottom) / 2} size={10.5}>Z-score</VText>
            {eCols.map((c, ci) => {
              const x0 = colX0 + ci * colStep
              const ys = row.traces[ci].map((v) => y(v))
              return (
                <g key={c} transform={`translate(${x0},0)`}>
                  <rect x={x(0)} y={top} width={x(row.bouts[ci]) - x(0)} height={rowH} fill="#fde7c3" />
                  <line x1={x(0)} x2={x(0)} y1={top} y2={bottom} stroke="#777" strokeWidth={0.9} strokeDasharray="1,1.2" />
                  <line x1={0} x2={colW} y1={y(0)} y2={y(0)} stroke="#777" strokeWidth={0.9} strokeDasharray="1,1.2" />
                  <path d={line(ys) as string} fill="none" stroke={row.color} strokeWidth={row.dashed ? 1.3 : 1.1}
                    strokeDasharray={row.dashed ? '1.6,1.2' : undefined} />
                  <line x1={0} x2={0} y1={top} y2={bottom} stroke="#555" strokeWidth={1.2} />
                  <line x1={0} x2={colW} y1={bottom} y2={bottom} stroke="#555" strokeWidth={1.2} />
                  {row.ticks.map((t) => (
                    <line key={t} x1={-3} x2={0} y1={y(t)} y2={y(t)} stroke="#555" strokeWidth={0.9} />
                  ))}
                  {x.ticks(10).map((t) => (
                    <line key={t} x1={x(t)} x2={x(t)} y1={bottom} y2={bottom + 2.5} stroke="#555" strokeWidth={0.9} />
                  ))}
                  {ci === 0 && row.ticks.map((t) => (
                    <text key={'l' + t} x={-5} y={y(t) + 3} textAnchor="end" fontSize={9} fill="#222">{t}</text>
                  ))}
                  {ri === eRows.length - 1 && [-5, 0, 5].map((t) => (
                    <text key={'x' + t} x={x(t)} y={bottom + 13} textAnchor="middle" fontSize={9} fill="#222">{t}</text>
                  ))}
                </g>
              )
            })}
          </g>
        )
      })}
      <text x={643} y={798} textAnchor="middle" fontSize={11} fontWeight="bold">Time (s)</text>
    </g>
  )
}

// ---------- panels f / g ----------
const FoodPanel = ({ x0, x1, title, obj, food, inset }: any) => {
  const x = d3.scaleLinear().domain([-30, 30]).range([x0, x1])
  const y = d3.scaleLinear().domain([-2, 6]).range([1004, 881])
  const t = (i: number) => fgStart + i * fgStep
  const band = (sem: number) => d3.area<number>().x((_, i) => x(t(i))).y0((d) => y(d - sem)).y1((d) => y(d + sem))
  const line = d3.line<number>().x((_, i) => x(t(i))).y((d) => y(d))
  const ix = d3.scalePoint<string>().domain(['object', 'food']).range([inset.ax + 11, inset.ax + 34])
  const iy = d3.scaleLinear().domain(inset.domain).range(inset.range)
  return (
    <g>
      <rect x={x(0)} y={y(6)} width={x(10) - x(0)} height={y(-2) - y(6)} fill="#faf6b3" />
      <path d={band(0.28)(food) as string} fill="#f49a8a" opacity={0.75} />
      <path d={band(0.2)(obj) as string} fill="#a9a9a9" opacity={0.75} />
      <line x1={x0} x2={x1} y1={y(0)} y2={y(0)} stroke="#111" strokeWidth={1} strokeDasharray="1.5,1.5" />
      <line x1={x(0)} x2={x(0)} y1={y(6)} y2={y(-2)} stroke="#111" strokeWidth={1} strokeDasharray="1.5,1.5" />
      <path d={line(food) as string} fill="none" stroke={RED} strokeWidth={1.1} />
      <path d={line(obj) as string} fill="none" stroke="#111" strokeWidth={1.1} />
      <line x1={x0} x2={x0} y1={y(-2)} y2={y(6)} stroke="#000" strokeWidth={1.6} />
      <line x1={x0} x2={x1} y1={y(-2)} y2={y(-2)} stroke="#000" strokeWidth={1.6} />
      {y.ticks(4).map((v) => (
        <g key={v}>
          <line x1={x0 - 4} x2={x0} y1={y(v)} y2={y(v)} stroke="#000" strokeWidth={1.4} />
          <text x={x0 - 6} y={y(v) + 4} textAnchor="end" fontSize={11} fontWeight="bold">{v}</text>
        </g>
      ))}
      {x.ticks(6).map((v) => (
        <g key={v}>
          <line x1={x(v)} x2={x(v)} y1={y(-2)} y2={y(-2) + 5} stroke="#000" strokeWidth={1.4} />
          <text x={x(v)} y={y(-2) + 16} textAnchor="middle" fontSize={11} fontWeight="bold">{v}</text>
        </g>
      ))}
      <text x={(x0 + x1) / 2} y={1041} textAnchor="middle" fontSize={13} fontWeight="bold">Time (s)</text>
      <VText x={x0 - 19} y={943} size={15}>Z-score</VText>
      <text x={x(0)} y={877} textAnchor="middle" fontSize={13} fontWeight="bold">{title}</text>
      {[{ n: 'object', c: '#555', dy: 0 }, { n: 'food', c: '#f06a60', dy: 16 }].map((l) => (
        <g key={l.n}>
          <line x1={x0 + 13} x2={x0 + 27} y1={891 + l.dy} y2={891 + l.dy} stroke={l.c} strokeWidth={2} />
          <text x={x0 + 31} y={895 + l.dy} fontSize={12} fontWeight="bold">{l.n}</text>
        </g>
      ))}
      {/* inset: AUC */}
      <g>
        {inset.zero && (
          <line x1={inset.ax} x2={inset.ax + 46} y1={iy(0)} y2={iy(0)} stroke="#c4c4c4" strokeWidth={1} />
        )}
        <line x1={inset.ax} x2={inset.ax} y1={inset.range[0]} y2={inset.range[1]} stroke="#000" strokeWidth={1} />
        <line x1={inset.ax} x2={inset.ax + 46} y1={inset.range[0]} y2={inset.range[0]} stroke="#000" strokeWidth={1} />
        {inset.ticks.map((v: number) => (
          <g key={v}>
            <line x1={inset.ax - 2.5} x2={inset.ax} y1={iy(v)} y2={iy(v)} stroke="#000" strokeWidth={0.9} />
            <text x={inset.ax - 4} y={iy(v) + 3} textAnchor="end" fontSize={8}>{v}</text>
          </g>
        ))}
        {['object', 'food'].map((k) => (
          <g key={k}>
            <line x1={ix(k)} x2={ix(k)} y1={inset.range[0]} y2={inset.range[0] + 2.5} stroke="#000" strokeWidth={0.9} />
            <text x={ix(k)} y={inset.range[0] + 13} textAnchor="middle" fontSize={8}>{k}</text>
          </g>
        ))}
        <text x={inset.ax + 16} y={875} textAnchor="middle" fontSize={8.5}>AUC (0 - 10s)</text>
        <text x={inset.ax + inset.starDx} y={inset.range[1] + 16} textAnchor="middle" fontSize={15} fontWeight="bold">{inset.star}</text>
        {inset.obj.map((v: number, i: number) => (
          <line key={'l' + i} x1={ix('object')} x2={ix('food')} y1={iy(v)} y2={iy(inset.food[i])} stroke="#000" strokeWidth={1} />
        ))}
        {inset.obj.map((v: number, i: number) => (
          <circle key={'o' + i} cx={ix('object')} cy={iy(v)} r={3} fill="#fff" stroke="#000" strokeWidth={1.2} />
        ))}
        {inset.food.map((v: number, i: number) => (
          <circle key={'f' + i} cx={ix('food')} cy={iy(v)} r={3} fill="#fff" stroke={RED} strokeWidth={1.2} />
        ))}
      </g>
    </g>
  )
}

const PanelFG = () => (
  <g>
    <Label x={8} y={862} t="f" />
    <FoodPanel x0={61} x1={267} title="Ctrl" obj={fCtrlObject} food={fCtrlFood}
      inset={{ ax: 225, domain: [-500, 1500], range: [940, 882], ticks: [-500, 0, 500, 1000, 1500], zero: true,
        obj: fAucObject, food: fAucFood, star: '*', starDx: 27 }} />
    <Label x={309} y={860} t="g" />
    <FoodPanel x0={362} x1={568} title="SD" obj={gSdObject} food={gSdFood}
      inset={{ ax: 521, domain: [0, 1500], range: [941, 882], ticks: [0, 500, 1000, 1500], zero: false,
        obj: gAucObject, food: gAucFood, star: '**', starDx: 24 }} />
  </g>
)

// ---------- panel h ----------
const PanelH = () => {
  const x = d3.scaleBand<string>().domain(hGroups).range([703, 783]).paddingInner(0.36).paddingOuter(0.2)
  const y = d3.scaleLinear().domain([0, 1500]).range([1017, 875])
  const fills = ['#fff', BAR_GRAY]
  const pts = [hCtrlPoints, hSdPoints]
  const cx = (g: string) => (x(g) as number) + x.bandwidth() / 2
  return (
    <g>
      <Label x={624} y={842} t="h" />
      {hGroups.map((g, i) => (
        <g key={g}>
          <rect x={x(g)} y={y(hMeans[i])} width={x.bandwidth()} height={y(0) - y(hMeans[i])} fill={fills[i]} stroke="#000" strokeWidth={1.5} />
          <MeanSem cx={cx(g)} y={y} mean={hMeans[i]} sem={hSems[i]} color="#000" half={0} cap={6.5} />
          {dodge(pts[i], y, 4.5, 7).map((p, j) => (
            <circle key={j} cx={cx(g) + p.dx} cy={y(p.v)} r={3.2} fill={i === 0 ? '#fff' : '#000'} stroke="#000" strokeWidth={1.3} />
          ))}
          <line x1={cx(g)} x2={cx(g)} y1={y(0)} y2={y(0) + 5} stroke="#000" strokeWidth={1.6} />
          <text x={cx(g)} y={1037} textAnchor="middle" fontSize={13} fontWeight="bold">{g}</text>
        </g>
      ))}
      <line x1={697} x2={697} y1={y(0)} y2={y(1500)} stroke="#000" strokeWidth={1.6} />
      <line x1={696} x2={789} y1={y(0)} y2={y(0)} stroke="#000" strokeWidth={1.6} />
      {y.ticks(3).map((t) => (
        <g key={t}>
          <line x1={692} x2={697} y1={y(t)} y2={y(t)} stroke="#000" strokeWidth={1.6} />
          <text x={690} y={y(t) + 4} textAnchor="end" fontSize={11} fontWeight="bold">{t}</text>
        </g>
      ))}
      <VText x={658} y={946} size={17}>ΔAUC (food - object)</VText>
      <text x={743} y={871} textAnchor="middle" fontSize={12}>n.s.</text>
      <Bracket x1={cx('Ctrl')} x2={cx('SD')} y={877} drop={7} />
    </g>
  )
}

export default function App() {
  return (
    <div style={{ position: 'absolute', left: 0, top: 0 }}>
      <svg width={850} height={1050} style={{ display: 'block', background: '#fff' }} fontFamily={FONT}>
        <rect width={850} height={1050} fill="#fff" />
        <PanelA />
        <PanelB />
        <PanelCD />
        <PanelE />
        <PanelFG />
        <PanelH />
      </svg>
    </div>
  )
}
